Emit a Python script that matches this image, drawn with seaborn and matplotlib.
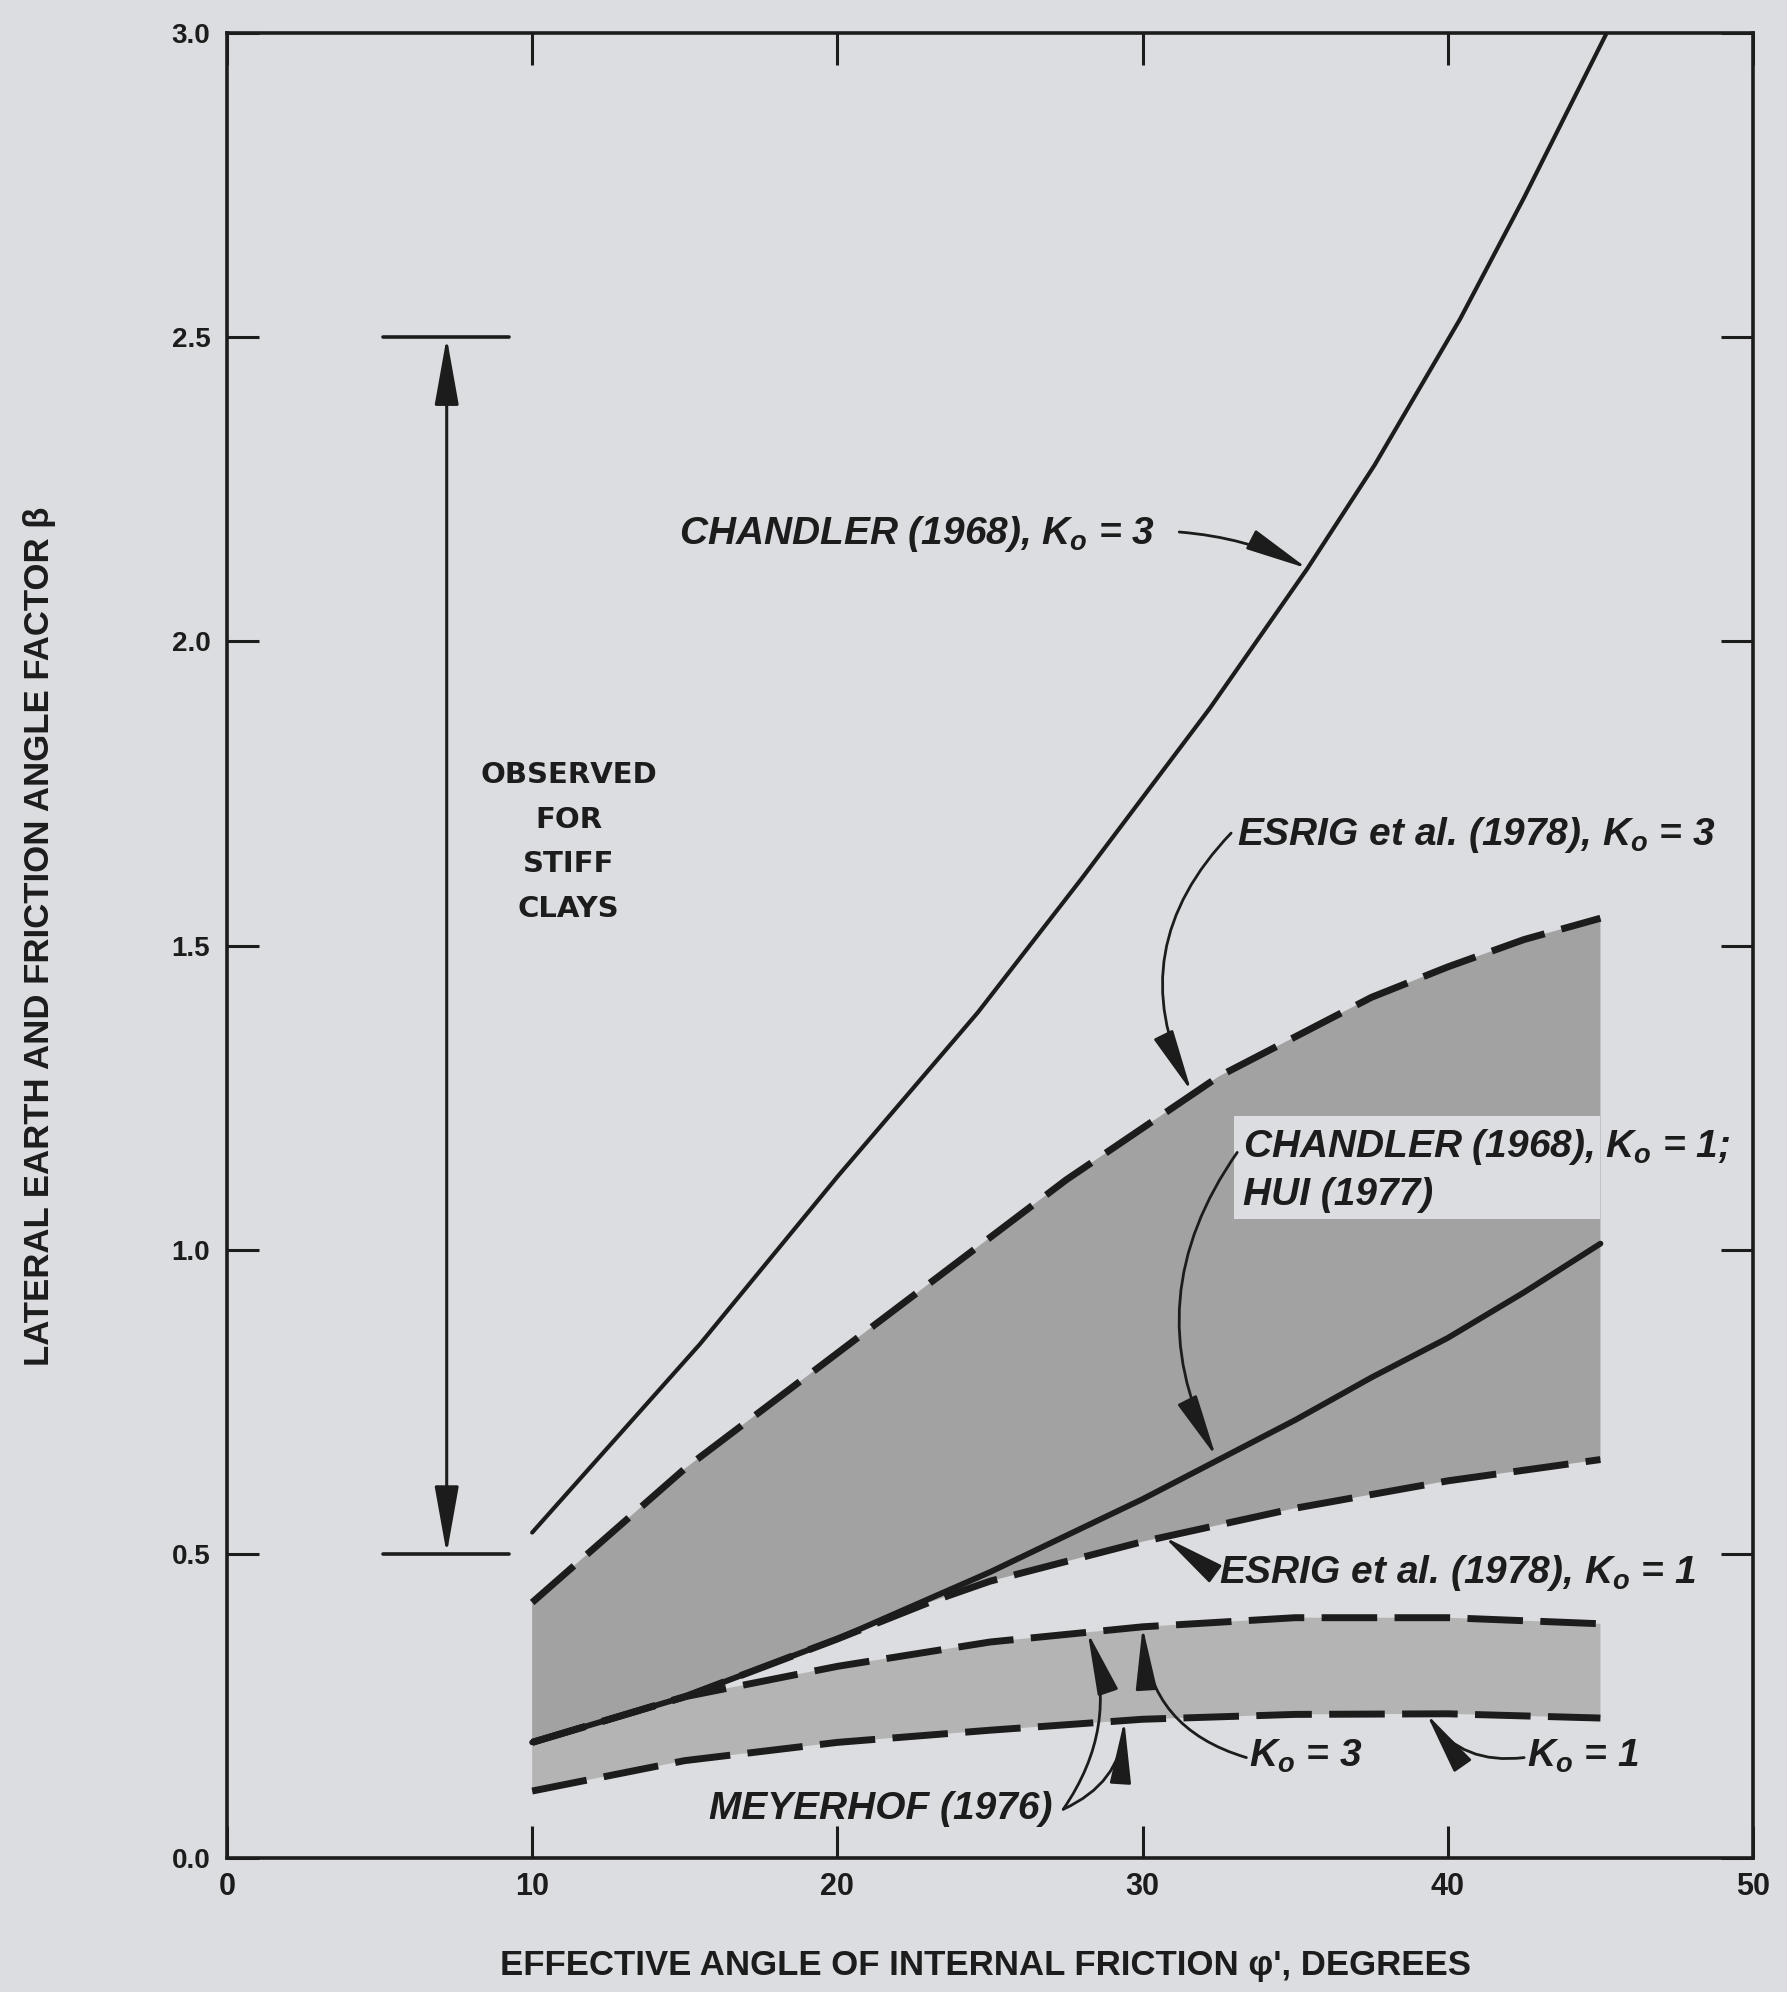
import matplotlib
matplotlib.use("Agg")
import numpy as np
import pandas as pd
import matplotlib.pyplot as plt
from matplotlib.patches import Rectangle
import seaborn as sns

# values (phi' in degrees, beta)
chandler_k3_phi = [10, 15.5, 20, 24.6, 28, 32.2, 35.4, 37.6, 40.4, 42.5, 45.2]
chandler_k3 = [0.535, 0.845, 1.12, 1.39, 1.61, 1.89, 2.12, 2.29, 2.53, 2.73, 3.0]
chandler_k1_phi = [10, 15, 20, 25, 30, 35, 37.5, 40, 42.5, 45]
chandler_k1 = [0.19, 0.265, 0.36, 0.47, 0.59, 0.72, 0.79, 0.855, 0.93, 1.01]
esrig_k3_phi = [10, 15, 20, 25, 27.5, 30, 32.5, 35, 37.5, 40, 42.5, 45]
esrig_k3 = [0.42, 0.64, 0.83, 1.02, 1.115, 1.20, 1.285, 1.35, 1.415, 1.465, 1.51, 1.545]
esrig_k1_phi = [10, 15, 20, 23, 25, 30, 35, 40, 45]
esrig_k1 = [0.19, 0.265, 0.36, 0.42, 0.455, 0.52, 0.575, 0.62, 0.655]
meyerhof_phi = [10, 15, 20, 25, 30, 35, 40, 45]
meyerhof_k3 = [0.19, 0.265, 0.315, 0.355, 0.38, 0.395, 0.395, 0.385]
meyerhof_k1 = [0.11, 0.16, 0.19, 0.21, 0.228, 0.236, 0.237, 0.23]
observed_range = [0.5, 2.5]

x_ticks = [0, 10, 20, 30, 40, 50]
y_ticks = [0.0, 0.5, 1.0, 1.5, 2.0, 2.5, 3.0]

BG = "#dcdde0"
INK = "#1c1c1c"

sns.set_style("ticks")
plt.rcParams["font.family"] = ["Liberation Sans", "DejaVu Sans"]
plt.rcParams["mathtext.fontset"] = "custom"
plt.rcParams["mathtext.it"] = "Liberation Sans:italic:bold"
plt.rcParams["mathtext.rm"] = "Liberation Sans:bold"

fig = plt.figure(figsize=(17.87, 19.92), dpi=100, facecolor=BG)
ax = fig.add_axes([0.127, 0.0673, 0.854, 0.916], facecolor=BG)

# shaded bands
ax.fill(np.r_[esrig_k3_phi, esrig_k1_phi[::-1]], np.r_[esrig_k3, esrig_k1[::-1]],
        color="#a2a2a2", lw=0, zorder=1)
ax.fill(np.r_[meyerhof_phi, meyerhof_phi[::-1]], np.r_[meyerhof_k3, meyerhof_k1[::-1]],
        color="#b4b4b4", lw=0, zorder=1)
# clear patch behind the Chandler/Hui label
ax.add_patch(Rectangle((33.0, 1.05), 12.0, 0.17, facecolor=BG,
                       edgecolor="none", zorder=1.5))

dash = (0, (8, 2.5))
curves = [
    (esrig_k3_phi, esrig_k3, dash, 5),
    (esrig_k1_phi, esrig_k1, dash, 5),
    (meyerhof_phi, meyerhof_k3, dash, 5),
    (meyerhof_phi, meyerhof_k1, dash, 5),
    (chandler_k1_phi, chandler_k1, "-", 4.2),
    (chandler_k3_phi, chandler_k3, "-", 3.0),
]
for xs, ys, ls, lw in curves:
    df = pd.DataFrame({"phi": xs, "beta": ys})
    sns.lineplot(data=df, x="phi", y="beta", ax=ax, color=INK, lw=lw,
                 linestyle=ls, sort=False, estimator=None, zorder=3)

# observed range for stiff clays
for yb in observed_range:
    ax.plot([5.1, 9.25], [yb, yb], color=INK, lw=2.6, zorder=3)
ax.annotate("", xy=(7.2, observed_range[1]), xytext=(7.2, observed_range[0]),
            arrowprops=dict(arrowstyle="<|-|>,head_length=1.4,head_width=0.25",
                            color=INK, lw=2.2, mutation_scale=30,
                            shrinkA=0, shrinkB=0))
ax.text(11.2, 1.67, "OBSERVED\nFOR\nSTIFF\nCLAYS", ha="center", va="center",
        fontsize=21, weight="bold", color=INK, linespacing=1.75,
        family="DejaVu Sans")

lab = dict(fontsize=28, style="italic", weight="bold", color=INK,
           va="baseline", ha="left", zorder=4)
ax.text(14.8, 2.16, "CHANDLER (1968), $K_o$ = 3", **lab)
ax.text(33.1, 1.665, "ESRIG et al. (1978), $K_o$ = 3", **lab)
ax.text(33.3, 1.153, "CHANDLER (1968), $K_o$ = 1;", **lab)
ax.text(33.3, 1.074, "HUI (1977)", **lab)
ax.text(32.5, 0.452, "ESRIG et al. (1978), $K_o$ = 1", **lab)
ax.text(33.5, 0.15, "$K_o$ = 3", **lab)
ax.text(42.6, 0.15, "$K_o$ = 1", **lab)
ax.text(15.8, 0.064, "MEYERHOF (1976)", **lab)


def arrow(start, end, rad=0.0):
    ax.annotate("", xy=end, xytext=start, zorder=4,
                arrowprops=dict(arrowstyle="-|>,head_length=1.3,head_width=0.22",
                                connectionstyle=f"arc3,rad={rad}",
                                color=INK, lw=2.0, mutation_scale=30,
                                shrinkA=0, shrinkB=0))


arrow((31.2, 2.18), (35.4, 2.12), -0.1)
arrow((32.9, 1.685), (31.6, 1.26), 0.35)
arrow((33.1, 1.16), (32.4, 0.66), 0.3)
arrow((32.3, 0.47), (30.7, 0.528), 0.0)
arrow((33.4, 0.165), (30.0, 0.38), -0.35)
arrow((42.5, 0.165), (39.3, 0.237), -0.3)
arrow((27.4, 0.08), (28.2, 0.371), 0.25)
arrow((27.4, 0.08), (29.4, 0.226), 0.3)

ax.set_xlim(0, 50)
ax.set_ylim(0, 3.0)
ax.set_xticks(x_ticks)
ax.set_xticklabels([str(t) for t in x_ticks], fontsize=22, weight="bold", color=INK)
ax.set_yticks(y_ticks)
ax.set_yticklabels([f"{t:.1f}" for t in y_ticks], fontsize=20, weight="bold", color=INK)
ax.tick_params(axis="both", direction="in", length=23, width=2.2, color=INK,
               top=True, right=True)
ax.tick_params(axis="x", pad=10)
ax.tick_params(axis="y", pad=12)
for s in ax.spines.values():
    s.set_linewidth(2.6)
    s.set_color(INK)
    s.set_visible(True)

ax.set_xlabel("EFFECTIVE ANGLE OF INTERNAL FRICTION \u03c6', DEGREES",
              fontsize=25, weight="bold", color=INK)
ax.xaxis.set_label_coords(0.497, -0.05)
ax.set_ylabel("LATERAL EARTH AND FRICTION ANGLE FACTOR \u03b2",
              fontsize=25, weight="bold", color=INK)
ax.yaxis.set_label_coords(-0.112, 0.505)

fig.savefig("out.png", dpi=100, facecolor=BG)
